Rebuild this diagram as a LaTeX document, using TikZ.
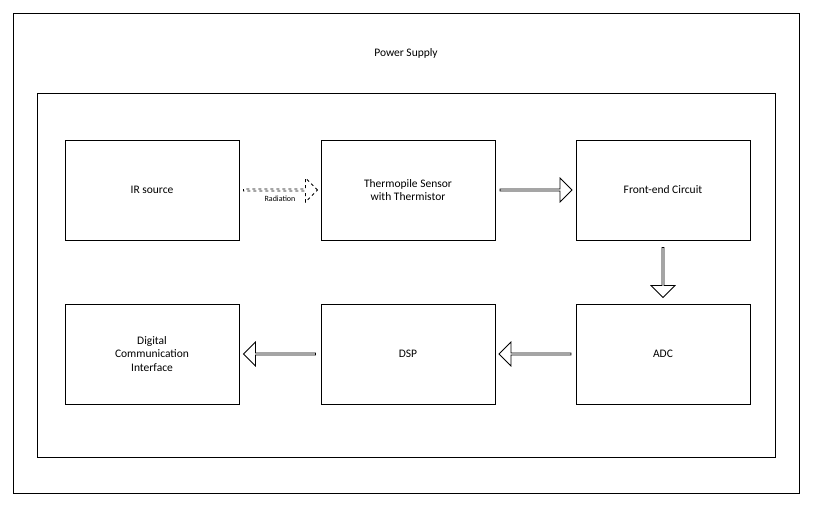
\documentclass[tikz,border=0pt]{standalone}
\usepackage{fontspec}
\setmainfont{Carlito}
\usetikzlibrary{calc,positioning,shapes.arrows}

\begin{document}
\begin{tikzpicture}[x=1pt,y=-1pt,
  block/.style={draw, thick, minimum width=174pt, minimum height=100pt,
    align=center, font=\fontsize{11.5}{13.5}\selectfont},
  barr/.style={single arrow, draw, thick, minimum width=24pt,
    single arrow head extend=4pt, single arrow tip angle=90,
    inner sep=0pt, minimum height=72pt}
]
  \useasboundingbox (0,0) rectangle (815,507);
  \draw[thick] (13,13) rectangle (799,493);
  \draw[thick] (37,93) rectangle (775,457);
  \node[font=\fontsize{11.5}{13.5}\selectfont] (power) at (406,53) {Power Supply};

  \node[block] (ir) at (152,190) {IR source};
  \node[block] (sensor) at (408,190) {Thermopile Sensor\\with Thermistor};
  \node[block] (frontend) at (663,190) {Front-end Circuit};
  \node[block] (adc) at (663,354) {ADC};
  \node[block] (dsp) at (408,354) {DSP};
  \node[block] (dci) at (152,354) {Digital\\Communication\\Interface};

  % block arrows between the boxes
  \node[barr, dashed, minimum height=74pt] (rad) at ($(ir.east)!0.5!(sensor.west)$) {};
  \node[font=\footnotesize, below=1pt of rad] (radlbl) {Radiation};
  \node[barr] (a1) at ($(sensor.east)!0.5!(frontend.west)$) {};
  \node[barr, rotate=-90, minimum height=50pt] (a2) at ($(frontend.south)!0.5!(adc.north)$) {};
  \node[barr, rotate=180] (a3) at ($(adc.west)!0.5!(dsp.east)$) {};
  \node[barr, rotate=180] (a4) at ($(dsp.west)!0.5!(dci.east)$) {};
\end{tikzpicture}
\end{document}
